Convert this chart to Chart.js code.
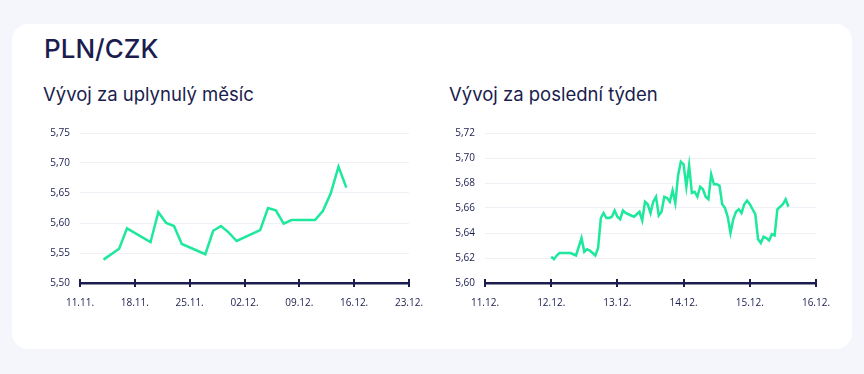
<!DOCTYPE html>
<html>
<head>
<meta charset="utf-8">
<script src="https://cdn.jsdelivr.net/npm/chart.js@4.4.1/dist/chart.umd.min.js"></script>
<style>
  html, body { margin: 0; padding: 0; }
  body { width: 864px; height: 374px; background: #f5f6fc; position: relative; overflow: hidden; font-family: Inter, "Open Sans", sans-serif; color: #1a1d4e; }
  .card { position: absolute; left: 12px; top: 24px; width: 840px; height: 325px; background: #fff; border-radius: 16px; }
  h1 { position: absolute; left: 44px; top: 33px; margin: 0; font-size: 26px; font-weight: 500; }
  h2 { position: absolute; top: 83px; margin: 0; font-size: 18.5px; font-weight: 400; }
  #monthTitle { left: 43px; }
  #weekTitle { left: 449px; }
  .box { position: absolute; top: 117px; height: 193px; }
  #monthBox { left: 40px; width: 390px; }
  #weekBox { left: 445px; width: 392px; }
</style>
</head>
<body>
<div class="card"></div>
<h1>PLN/CZK</h1>
<h2 id="monthTitle">Vývoj za uplynulý měsíc</h2>
<h2 id="weekTitle">Vývoj za poslední týden</h2>
<div class="box" id="monthBox"><canvas id="monthChart"></canvas></div>
<div class="box" id="weekBox"><canvas id="weekChart"></canvas></div>
<script>
// month: days since 11.11.
const monthDays = [3, 5, 6, 9, 10, 11, 12, 13, 16, 17, 18, 19, 20, 23, 24, 25, 26, 27, 30, 31, 32, 33, 34];
const monthValues = [5.539, 5.557, 5.591, 5.568, 5.618, 5.600, 5.595, 5.565, 5.548, 5.587, 5.595, 5.584, 5.570,
  5.588, 5.625, 5.621, 5.599, 5.605, 5.605, 5.620, 5.649, 5.694, 5.659];
const monthTickLabels = ['11.11.', '18.11.', '25.11.', '02.12.', '09.12.', '16.12.', '23.12.'];

// week: hours since 11.12. 00:00
const weekHours = [24, 25, 26, 27, 28, 29, 30, 31, 32, 33, 34, 35, 36, 37, 38, 39, 40, 41, 42, 43, 44, 45, 46, 47,
  48, 49, 50, 51, 52, 53, 54, 55, 56, 57, 58, 59, 60, 61, 62, 63, 64, 65, 66, 67, 68, 69, 70, 71,
  72, 73, 74, 75, 76, 77, 78, 79, 80, 81, 82, 83, 84, 85, 86, 87, 88, 89, 90, 91, 92, 93, 94, 95,
  96, 97, 98, 99, 100, 101, 102, 103, 104, 105, 106, 107, 108, 109, 110];
const weekValues = [5.621, 5.619, 5.622, 5.624, 5.624, 5.624, 5.624, 5.624, 5.623, 5.622, 5.629, 5.636, 5.625, 5.627, 5.626, 5.624, 5.622, 5.628,
  5.652, 5.656, 5.652, 5.652, 5.653, 5.658, 5.653, 5.651, 5.658, 5.656, 5.655, 5.654, 5.653, 5.655, 5.657, 5.650,
  5.665, 5.663, 5.656, 5.665, 5.669, 5.654, 5.657, 5.669, 5.668, 5.665, 5.674, 5.664, 5.686, 5.697, 5.695, 5.677,
  5.694, 5.672, 5.673, 5.669, 5.677, 5.675, 5.669, 5.667, 5.687, 5.679, 5.679, 5.678, 5.663, 5.660, 5.653, 5.640,
  5.651, 5.657, 5.659, 5.656, 5.663, 5.666, 5.663, 5.659, 5.655, 5.635, 5.632, 5.637, 5.636, 5.634, 5.639, 5.638,
  5.659, 5.661, 5.663, 5.667, 5.661];
const weekTickLabels = ['11.12.', '12.12.', '13.12.', '14.12.', '15.12.', '16.12.'];

const navy = '#1a1d4e';
const green = '#1de89c';

Chart.defaults.font.family = '"Open Sans", Inter, sans-serif';
Chart.defaults.font.size = 10;
Chart.defaults.color = navy;

// short tick marks crossing the x axis line
const axisTicks = {
  id: 'axisTicks',
  afterDraw(chart) {
    const x = chart.scales.x;
    const ctx = chart.ctx;
    const yAxis = chart.chartArea.bottom;
    ctx.save();
    ctx.strokeStyle = navy;
    ctx.lineWidth = 2;
    x.ticks.forEach((t, i) => {
      const px = Math.round(x.getPixelForTick(i));
      ctx.beginPath();
      ctx.moveTo(px, yAxis - 4);
      ctx.lineTo(px, yAxis + 4);
      ctx.stroke();
    });
    ctx.restore();
  }
};

function lineChart(canvas, xs, ys, xMax, xStep, xLabels, yMin, yMax, yStep) {
  return new Chart(canvas, {
    type: 'line',
    data: {
      datasets: [{
        data: xs.map((x, i) => ({ x, y: ys[i] })),
        borderColor: green,
        borderWidth: 2.5,
        pointRadius: 0,
        tension: 0,
        fill: false
      }]
    },
    options: {
      responsive: true,
      maintainAspectRatio: false,
      animation: false,
      layout: { padding: { top: 10, right: 21, left: 0, bottom: 0 } },
      plugins: { legend: { display: false }, tooltip: { enabled: false } },
      scales: {
        x: {
          type: 'linear',
          min: 0,
          max: xMax,
          afterFit: s => { s.height = 27; },
          grid: { display: false },
          border: { display: true, color: navy, width: 2.5 },
          ticks: {
            stepSize: xStep,
            autoSkip: false,
            maxRotation: 0,
            padding: 6,
            callback: (v, i) => xLabels[i]
          }
        },
        y: {
          min: yMin,
          max: yMax,
          afterFit: s => { s.width = 40; },
          border: { display: false },
          grid: { color: '#eef0f5', lineWidth: 1, drawTicks: false },
          ticks: {
            stepSize: yStep,
            padding: 10,
            callback: v => v.toFixed(2).replace('.', ',')
          }
        }
      }
    },
    plugins: [axisTicks]
  });
}

lineChart(document.getElementById('monthChart'), monthDays, monthValues, 42, 7, monthTickLabels, 5.50, 5.75, 0.05);
lineChart(document.getElementById('weekChart'), weekHours, weekValues, 120, 24, weekTickLabels, 5.60, 5.72, 0.02);
</script>
</body>
</html>
